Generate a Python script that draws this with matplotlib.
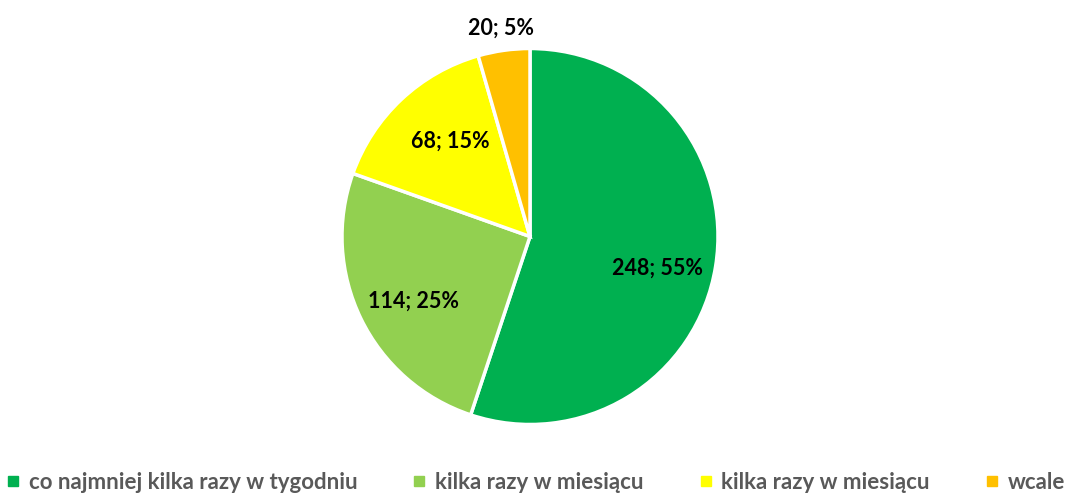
import matplotlib
matplotlib.use("Agg")
import matplotlib.pyplot as plt
import numpy as np
from matplotlib.lines import Line2D

CATEGORIES = [
    "co najmniej kilka razy w tygodniu",
    "kilka razy w miesiącu",
    "kilka razy w miesiącu",
    "wcale",
]
COUNTS = [248, 114, 68, 20]
PERCENTS = [55, 25, 15, 5]
COLORS = ["#00B050", "#92D050", "#FFFF00", "#FFC000"]

# label anchor (radius factor, angle deg) for each slice
LABEL_POLAR = [(0.70, -13.8), (0.71, 209.0), (0.66, 130.0), (1.12, 98.0)]

W, H = 1069, 496
CX, CY, R = 530, 236.5, 188.0

plt.rcParams["font.family"] = ["Lato", "DejaVu Sans"]

fig = plt.figure(figsize=(W / 100, H / 100), dpi=100)
ax = fig.add_axes([0, 0, 1, 1])

wedges, _ = ax.pie(
    COUNTS,
    colors=COLORS,
    startangle=90,
    counterclock=False,
    radius=1.0,
    wedgeprops=dict(edgecolor="white", linewidth=2.5),
)
ax.set_xlim(-CX / R, (W - CX) / R)
ax.set_ylim(-(H - CY) / R, CY / R)
ax.set_aspect("equal")
ax.axis("off")

for (rf, ang), n, p in zip(LABEL_POLAR, COUNTS, PERCENTS):
    a = np.deg2rad(ang)
    ax.text(rf * np.cos(a), rf * np.sin(a), f"{n}; {p}%",
            ha="center", va="center", fontsize=15.5, fontweight="bold", color="black")

handles = [Line2D([], [], marker="s", linestyle="none", markersize=7,
                  markerfacecolor=c, markeredgecolor=c) for c in COLORS]
fig.legend(handles, CATEGORIES, loc="lower center", ncol=4, frameon=False,
           bbox_to_anchor=(0.5, -0.034), handletextpad=0.3, columnspacing=2.4,
           handlelength=0.8, prop=dict(size=16, weight="bold"),
           labelcolor="#595959")

fig.savefig("out.png", dpi=100)
